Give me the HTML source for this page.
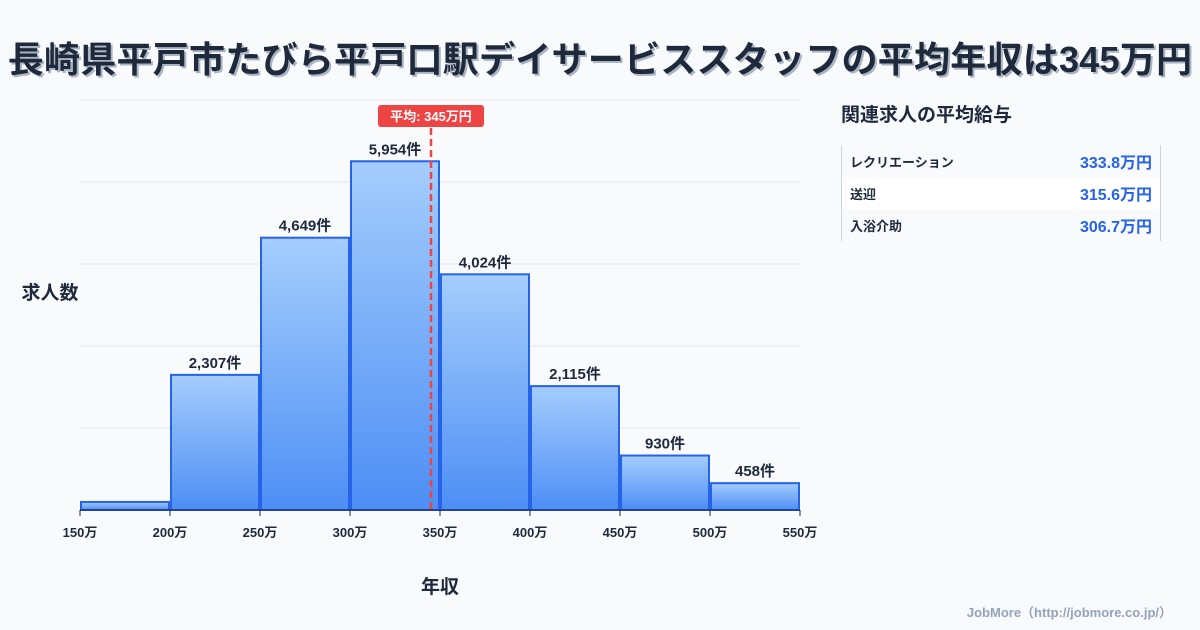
<!DOCTYPE html>
<html><head><meta charset="utf-8">
<style>
body{margin:0;width:1200px;height:630px;background:#f8fafc;font-family:"Liberation Sans","Noto Sans CJK JP",sans-serif;overflow:hidden;position:relative}
#title{position:absolute;left:0;top:31px;width:1200px;text-align:center;font-size:36px;font-weight:bold;color:#1e293b;text-shadow:2px 2px 0 #aab4c3;letter-spacing:0.25px;white-space:nowrap}
#side{position:absolute;left:841px;top:100px;width:320px}
#side h2{margin:0;font-size:19px;color:#1e293b;font-weight:bold;height:45px;line-height:32px}
.tbl{border-left:1px solid #cbd5e1;border-right:1px solid #cbd5e1}
.row{display:flex;justify-content:space-between;align-items:center;height:32px;padding:0 8px;font-size:13px;font-weight:bold;color:#1e293b}
.row:nth-child(2){background:#fff}
.row span:last-child{color:#2563eb;font-size:16px}
#foot{position:absolute;right:28px;top:602px;font-size:13px;color:#94a3b8;font-weight:bold}
</style></head><body>
<div id="title">長崎県平戸市たびら平戸口駅デイサービススタッフの平均年収は345万円</div>
<svg id="chart" width="830" height="630" style="position:absolute;left:0;top:0">
<defs><linearGradient id="g" x1="0" y1="0" x2="0" y2="1"><stop offset="0" stop-color="#a5cdfc"/><stop offset="1" stop-color="#4d8ef5"/></linearGradient></defs>
</svg>
<div id="side">
<h2>関連求人の平均給与</h2>
<div class="tbl">
<div class="row"><span>レクリエーション</span><span>333.8万円</span></div>
<div class="row"><span>送迎</span><span>315.6万円</span></div>
<div class="row"><span>入浴介助</span><span>306.7万円</span></div>
</div></div>
<div id="foot">JobMore（http://jobmore.co.jp/）</div>
<script>
const binStarts=[150,200,250,300,350,400,450,500];
const counts=[137,2307,4649,5954,4024,2115,930,458];
const countLabels=["","2,307件","4,649件","5,954件","4,024件","2,115件","930件","458件"];
const xTicks=[150,200,250,300,350,400,450,500,550];
const yTicks=[0,1400,2800,4200,5600,7000];
const avg=345;
const NS="http://www.w3.org/2000/svg";
const svg=document.getElementById('chart');
const X0=80,X1=800,Y0=510,Y1=100,XMIN=150,XMAX=550,YMAX=7000;
const xs=v=>X0+(v-XMIN)/(XMAX-XMIN)*(X1-X0);
const ys=v=>Y0-v/YMAX*(Y0-Y1);
function mk(t,a,txt){const e=document.createElementNS(NS,t);for(const k in a)e.setAttribute(k,a[k]);if(txt!=null)e.textContent=txt;svg.appendChild(e);return e;}
yTicks.forEach(t=>{const l=mk('line',{x1:X0,x2:X1,y1:ys(t),y2:ys(t),stroke:'#e5e7eb','stroke-width':1});

});
const step=50;
binStarts.forEach((b,i)=>{
const x=xs(b)+1,w=xs(b+step)-xs(b)-2,y=ys(counts[i]);
const r=mk('rect',{x:x,y:y,width:w,height:Y0-y,fill:'url(#g)',stroke:'#2563eb','stroke-width':2});


if(countLabels[i]){const t=mk('text',{x:x+w/2,y:y-7,'text-anchor':'middle','font-size':15,'font-weight':'bold',fill:'#1e293b'},countLabels[i]);

}
});
const ax=mk('line',{x1:X0,x2:X1,y1:Y0,y2:Y0,stroke:'#1e293b','stroke-width':1});


xTicks.forEach(t=>{
const tk=mk('line',{x1:xs(t),x2:xs(t),y1:Y0,y2:Y0+6,stroke:'#1e293b'});


const lb=mk('text',{x:xs(t),y:Y0+27,'text-anchor':'middle','font-size':13,'font-weight':'bold',fill:'#1e293b'},t+'万');


});
const ax2=xs(avg);
const al=mk('line',{x1:ax2,x2:ax2,y1:128,y2:Y0,stroke:'#ef4444','stroke-width':2.5,'stroke-dasharray':'7,4'});


const ab=mk('rect',{x:ax2-53,y:105,width:106,height:22,rx:3,fill:'#ef4444'});


const at=mk('text',{x:ax2,y:121,'text-anchor':'middle','font-size':13,'font-weight':'bold',fill:'#fff'},'平均: '+avg+'万円');


const yt=mk('text',{x:50,y:299,'text-anchor':'middle','font-size':19,'font-weight':'bold',fill:'#1e293b'},'求人数');


const xt=mk('text',{x:440,y:593,'text-anchor':'middle','font-size':19,'font-weight':'bold',fill:'#1e293b'},'年収');


</script>
</body></html>
